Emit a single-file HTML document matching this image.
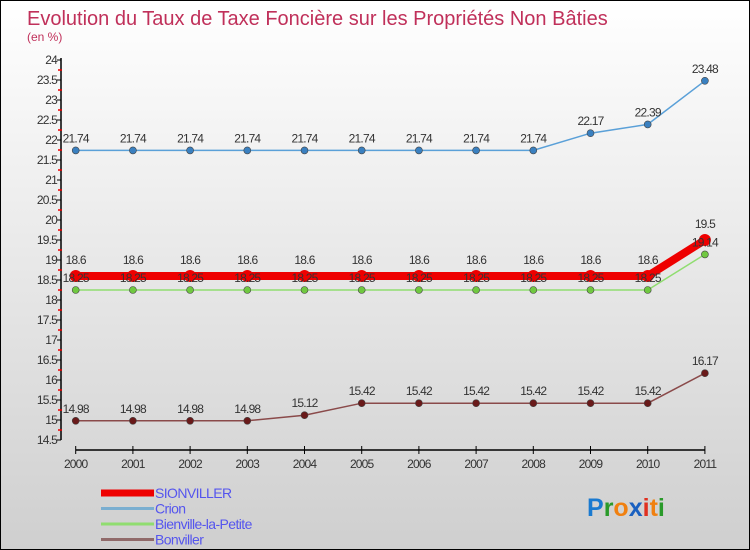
<!DOCTYPE html>
<html><head><meta charset="utf-8"><style>
body{margin:0;width:750px;height:550px;overflow:hidden;font-family:"Liberation Sans",sans-serif}
#wrap{position:relative;width:748px;height:548px;border:1px solid #000;background:linear-gradient(#ffffff,#cfcfcf)}
</style></head><body>
<div id="wrap">
<svg id="chart" width="748" height="548" style="position:absolute;left:0;top:0">
<text x="26" y="24" font-size="20" fill="#c0305a">Evolution du Taux de Taxe Foncière sur les Propriétés Non Bâties</text>
<text x="26" y="40" font-size="12" fill="#c0305a">(en %)</text>
</svg>
</div>
<script>
const years=[2000,2001,2002,2003,2004,2005,2006,2007,2008,2009,2010,2011];
const sionviller=[18.6,18.6,18.6,18.6,18.6,18.6,18.6,18.6,18.6,18.6,18.6,19.5];
const crion=[21.74,21.74,21.74,21.74,21.74,21.74,21.74,21.74,21.74,22.17,22.39,23.48];
const bienville=[18.25,18.25,18.25,18.25,18.25,18.25,18.25,18.25,18.25,18.25,18.25,19.14];
const bonviller=[14.98,14.98,14.98,14.98,15.12,15.42,15.42,15.42,15.42,15.42,15.42,16.17];
const yTicks=[14.5,15,15.5,16,16.5,17,17.5,18,18.5,19,19.5,20,20.5,21,21.5,22,22.5,23,23.5,24];
const names=["SIONVILLER","Crion","Bienville-la-Petite","Bonviller"];
const NS="http://www.w3.org/2000/svg";
const svg=document.getElementById('chart');
const X=i=>74.7+i*57.2;
const Y=v=>259-(v-19)*40;
function mk(t,a,p){const e=document.createElementNS(NS,t);for(const k in a)e.setAttribute(k,a[k]);(p||svg).appendChild(e);return e;}
let ax=mk('line',{x1:60,y1:Y(24)-2,x2:60,y2:Y(14.5),stroke:'#000','stroke-width':1.5});


yTicks.forEach(v=>{
  mk('line',{x1:56,y1:Y(v),x2:60,y2:Y(v),stroke:'#000'});
  if(v<24) mk('line',{x1:57,y1:Y(v)-10,x2:61,y2:Y(v)-10,stroke:'#e00','stroke-width':1.5});
  let t=mk('text',{x:56,y:Y(v)+4,'font-size':12,'text-anchor':'end',fill:'#333','letter-spacing':'-0.8'});
  t.textContent=String(v);
  
  
});
let xa=mk('line',{x1:X(0),y1:449,x2:X(11),y2:449,stroke:'#000','stroke-width':1.5});


years.forEach((y,i)=>{
  mk('line',{x1:X(i),y1:445,x2:X(i),y2:453,stroke:'#000'});
  let t=mk('text',{x:X(i),y:467,'font-size':12,'text-anchor':'middle',fill:'#333','letter-spacing':'-0.8'});
  t.textContent=String(y);
  
  
});
const series=[
 {d:crion,c:'#5aa0d8',f:'#3a80c0',w:1.5,r:3.5,n:'crion',o:8},
 {d:bienville,c:'#90dd70',f:'#70c840',w:1.5,r:3.5,n:'bienville',o:8},
 {d:bonviller,c:'#8a4a4a',f:'#6a1a1a',w:1.5,r:3.5,n:'bonviller',o:8},
 {d:sionviller,c:'#ee0000',f:'#ee0000',w:8,r:6,n:'sionviller',o:12}];
series.forEach(s=>{
  let p=mk('polyline',{points:s.d.map((v,i)=>X(i)+','+Y(v)).join(' '),fill:'none',stroke:s.c,'stroke-width':s.w});
  
  
  s.d.forEach((v,i)=>{
    let c=mk('circle',{cx:X(i),cy:Y(v),r:s.r,fill:s.f,stroke:'#444','stroke-width':s.w>2?0:0.6});
    
    
  });
});
series.forEach(s=>{
  s.d.forEach((v,i)=>{
    let t=mk('text',{x:X(i),y:Y(v)-s.o,'font-size':12,'text-anchor':'middle',fill:'#333','letter-spacing':'-0.8'});
    t.textContent=String(v);
    
    
  });
});
const lc=['#ee0000','#7aaed0','#90dd70','#906a6a'],lw=[7,3,3,3];
names.forEach((n,i)=>{
  let y=492+i*15.5;
  mk('line',{x1:100,y1:y,x2:153,y2:y,stroke:lc[i],'stroke-width':lw[i]});
  let t=mk('text',{x:154,y:y+5,'font-size':14,fill:'#5555ee','letter-spacing':'-0.6'});
  t.textContent=n;
  
  
});
const logo=[['P','#1a7ad0'],['r','#2a9a2a'],['o','#f08010'],['x','#1a60c0'],['i','#e03020'],['t','#f08010'],['i','#2a9a2a']];
let lt=mk('text',{x:586,y:515,'font-size':25,'font-weight':'bold'});


logo.forEach(([ch,c])=>{let s=mk('tspan',{fill:c},lt);s.textContent=ch;});
</script>
</body></html>
